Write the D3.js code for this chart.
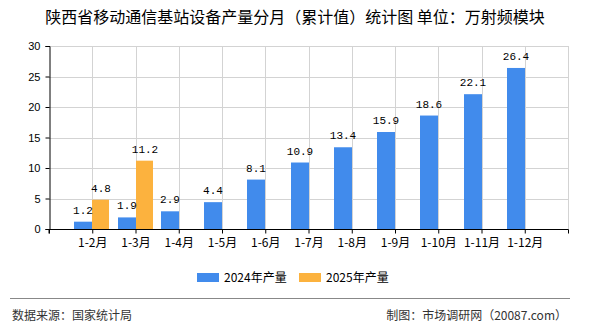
<!DOCTYPE html>
<html><head><meta charset="utf-8">
<script src="https://cdn.jsdelivr.net/npm/d3@7/dist/d3.min.js"></script>
<style>body{margin:0;background:#fff}svg{display:block}</style>
</head><body>
<script>
const categories = ["1-2月","1-3月","1-4月","1-5月","1-6月","1-7月","1-8月","1-9月","1-10月","1-11月","1-12月"];
const values2024 = [1.2,1.9,2.9,4.4,8.1,10.9,13.4,15.9,18.6,22.1,26.4];
const values2025 = [4.8,11.2];
const yTicks = [0,5,10,15,20,25,30];
const seriesNames = ["2024年产量","2025年产量"];
const colors = ["#418bec","#fcb23e"];

const W=590,H=330;
const svg=d3.select("body").append("svg").attr("width",W).attr("height",H);
const x0=49,x1=568,yTop=46,yBot=229;
const x=d3.scalePoint().domain(categories).range([x0,x1]).padding(1);
const y=d3.scaleLinear().domain([0,30]).range([yBot,yTop]);
const numFont="'Liberation Mono','DejaVu Sans Mono',monospace";
const cjk="'Noto Sans CJK SC','Noto Sans',sans-serif";

svg.append("text").attr("x",295).attr("y",23).attr("text-anchor","middle")
  .attr("font-family",cjk).attr("font-size",16).attr("fill","#000")
  .text("陕西省移动通信基站设备产量分月（累计值）统计图 单位：万射频模块");

// grid
const g=svg.append("g");
g.selectAll("line.h").data(yTicks.slice(1)).join("line")
  .attr("x1",x0).attr("x2",x1).attr("y1",d=>Math.round(y(d))+0.5).attr("y2",d=>Math.round(y(d))+0.5)
  .attr("stroke","#d3d3d3");
g.selectAll("line.v").data(categories).join("line")
  .attr("x1",d=>Math.round(x(d))+0.5).attr("x2",d=>Math.round(x(d))+0.5).attr("y1",yTop).attr("y2",yBot)
  .attr("stroke","#d3d3d3");
g.append("line").attr("x1",x1+0.5).attr("x2",x1+0.5).attr("y1",yTop).attr("y2",yBot).attr("stroke","#d3d3d3");

// bars
const bw=18;
svg.selectAll("rect.b24").data(values2024).join("rect")
  .attr("x",(d,i)=>Math.round(x(categories[i]))-bw).attr("width",bw)
  .attr("y",d=>y(d)).attr("height",d=>yBot-y(d)).attr("fill",colors[0]);
svg.selectAll("rect.b25").data(values2025).join("rect")
  .attr("x",(d,i)=>Math.round(x(categories[i]))).attr("width",bw-1)
  .attr("y",d=>y(d)).attr("height",d=>yBot-y(d)).attr("fill",colors[1]);

svg.selectAll("text.l24").data(values2024).join("text")
  .attr("x",(d,i)=>Math.round(x(categories[i]))-bw/2).attr("y",d=>y(d)-8)
  .attr("text-anchor","middle").attr("font-family",numFont).attr("font-size",11).attr("fill","#000")
  .text(d=>d.toFixed(1));
svg.selectAll("text.l25").data(values2025).join("text")
  .attr("x",(d,i)=>Math.round(x(categories[i]))+bw/2).attr("y",d=>y(d)-8)
  .attr("text-anchor","middle").attr("font-family",numFont).attr("font-size",11).attr("fill","#000")
  .text(d=>d.toFixed(1));

// axes
const ya=svg.append("g").attr("transform",`translate(${x0+0.5},0)`)
  .call(d3.axisLeft(y).tickValues(yTicks).tickSize(4).tickPadding(5));
ya.select(".domain").attr("stroke","#000");
ya.selectAll("line").attr("stroke","#000");
ya.selectAll("text").attr("font-family","'Liberation Sans',Arial,sans-serif").attr("font-size",11).attr("fill","#000");

const xa=svg.append("g").attr("transform",`translate(0,${yBot+0.5})`)
  .call(d3.axisBottom(x).tickSize(4).tickPadding(5).tickSizeOuter(4));
xa.select(".domain").attr("stroke","#000").attr("d",`M${x0},4V0H${x1+0.5}V4`);
xa.selectAll("line").attr("stroke","#000");
xa.selectAll("text").attr("font-family",cjk).attr("font-size",12).attr("fill","#000");
xa.append("line").attr("x1",x0+0.5).attr("x2",x0+0.5).attr("y1",0).attr("y2",4).attr("stroke","#000");

// legend
const leg=[{n:seriesNames[0],c:colors[0],x:197},{n:seriesNames[1],c:colors[1],x:299}];
leg.forEach(l=>{
  svg.append("rect").attr("x",l.x).attr("y",273).attr("width",22).attr("height",9).attr("fill",l.c);
  svg.append("text").attr("x",l.x+27).attr("y",282).attr("font-family",cjk).attr("font-size",12).attr("fill","#000").text(l.n);
});

// footer
svg.append("line").attr("x1",10).attr("x2",570).attr("y1",298.5).attr("y2",298.5).attr("stroke","#888");
svg.append("text").attr("x",12).attr("y",320).attr("font-family",cjk).attr("font-size",12).attr("fill","#333").text("数据来源：国家统计局");
svg.append("text").attr("x",567).attr("y",320).attr("text-anchor","end").attr("font-family",cjk).attr("font-size",12).attr("fill","#333").text("制图：市场调研网（20087.com）");
</script>
</body></html>
